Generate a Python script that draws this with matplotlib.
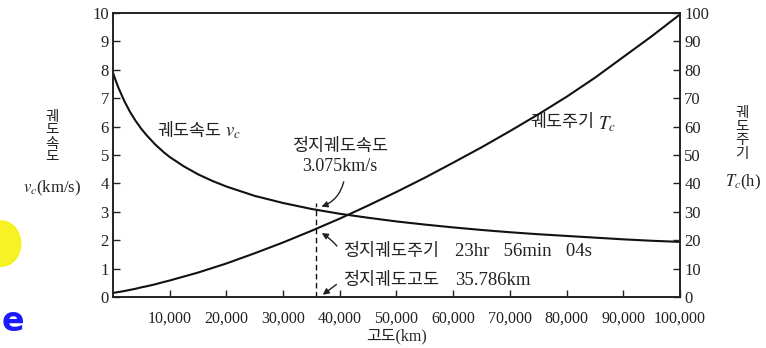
import matplotlib
matplotlib.use("Agg")
import matplotlib.pyplot as plt
from matplotlib.patches import Ellipse

plt.rcParams['font.family'] = ['Liberation Serif', 'Noto Sans CJK KR', 'DejaVu Sans']
plt.rcParams['mathtext.fontset'] = 'stix'

# ---- data ----
altitude_km = [0, 500, 1000, 2000, 3000, 4000, 5000, 6000, 7500, 9000, 10000, 12500,
               15000, 17500, 20000, 25000, 30000, 35000, 40000, 45000, 50000, 55000,
               60000, 65000, 70000, 75000, 80000, 85000, 90000, 95000, 100000]
velocity_kms = [7.90, 7.61, 7.35, 6.90, 6.52, 6.20, 5.92, 5.68, 5.36, 5.09, 4.93, 4.60,
                4.32, 4.09, 3.89, 3.56, 3.31, 3.10, 2.93, 2.79, 2.66, 2.55,
                2.45, 2.36, 2.28, 2.21, 2.15, 2.09, 2.03, 1.98, 1.94]
period_h = [1.4, 1.58, 1.75, 2.1, 2.5, 2.9, 3.4, 3.8, 4.5, 5.3, 5.8, 7.2,
            8.6, 10.2, 11.8, 15.4, 19.2, 23.3, 27.6, 32.2, 37.0, 42.0,
            47.3, 52.7, 58.4, 64.3, 70.5, 77.2, 84.5, 91.8, 99.5]
geo_altitude = 35786
geo_velocity = 3.3
x_ticks = [10000, 20000, 30000, 40000, 50000, 60000, 70000, 80000, 90000, 100000]
x_ticklabels = ['10,000', '20,000', '30,000', '40,000', '50,000', '60,000',
                '70,000', '80,000', '90,000', '100,000']
left_ticks = list(range(0, 11))
right_ticks = list(range(0, 101, 10))

INK = '#222222'

fig = plt.figure(figsize=(7.66, 3.48), dpi=100)
ax = fig.add_axes([0.1475, 0.1466, 0.7402, 0.816])
ax2 = ax.twinx()

ax.plot(altitude_km, velocity_kms, color='#111111', lw=1.5)
ax2.plot(altitude_km, period_h, color='#111111', lw=1.5)
ax.plot([geo_altitude, geo_altitude], [0, geo_velocity], color='#111111', lw=1.0,
        linestyle=(0, (4, 2.5)))

ax.set_xlim(0, 100000)
ax.set_ylim(0, 10)
ax2.set_ylim(0, 100)

ax.set_xticks(x_ticks)
ax.set_xticklabels(x_ticklabels)
ax.set_yticks(left_ticks)
ax2.set_yticks(right_ticks)

for a in (ax, ax2):
    for s in a.spines.values():
        s.set_linewidth(1.2)
        s.set_color(INK)
ax.tick_params(axis='both', direction='in', length=5, width=1, labelsize=12,
               colors=INK, pad=3)
ax.tick_params(axis='x', pad=10, labelsize=11.5)
ax2.tick_params(axis='y', direction='in', length=5, width=1, labelsize=12,
                colors=INK, pad=3)

ax.set_xlabel('고도(km)', fontsize=11.5, labelpad=1, color=INK)

# curve labels
ax.text(7760, 5.81, '궤도속도', fontsize=12.5, va='center', ha='left', color=INK)
ax.text(19700, 5.78, '$v_c$', fontsize=13.5, va='center', ha='left', color=INK)
ax.text(73600, 6.13, '궤도주기', fontsize=12.5, va='center', ha='left', color=INK)
ax.text(85500, 6.10, '$T_c$', fontsize=13.5, va='center', ha='left', color=INK)

# annotations
ax.text(40000, 5.28, '정지궤도속도', fontsize=12.5, ha='center', va='center', color=INK)
ax.text(40000, 4.58, '3.075km/s', fontsize=13, ha='center', va='center', color=INK)
ax.annotate('', xy=(36300, 3.15), xytext=(40800, 4.15),
            arrowprops=dict(arrowstyle='-|>', color=INK, lw=1,
                            connectionstyle='arc3,rad=-0.3', mutation_scale=9))
ax.text(40600, 1.6, '정지궤도주기', fontsize=12.5, ha='left', va='center', color=INK)
ax.text(60300, 1.6, '23hr   56min   04s', fontsize=13.5, ha='left', va='center', color=INK)
ax.annotate('', xy=(36400, 2.3), xytext=(39800, 1.72),
            arrowprops=dict(arrowstyle='-|>', color=INK, lw=1,
                            connectionstyle='arc3,rad=0.1', mutation_scale=9))
ax.text(40600, 0.58, '정지궤도고도', fontsize=12.5, ha='left', va='center', color=INK)
ax.text(60300, 0.58, '35.786km', fontsize=13.5, ha='left', va='center', color=INK)
ax.annotate('', xy=(36600, 0.02), xytext=(39800, 0.5),
            arrowprops=dict(arrowstyle='-|>', color=INK, lw=1,
                            connectionstyle='arc3,rad=0.0', mutation_scale=9))

# axis titles (stacked)
fig.text(0.068, 0.605, '궤\n도\n속\n도', fontsize=10.5, ha='center', va='center',
         linespacing=1.05, color=INK)
fig.text(0.068, 0.46, '$v_c$(km/s)', fontsize=12, ha='center', va='center', color=INK)
fig.text(0.969, 0.615, '궤\n도\n주\n기', fontsize=10.5, ha='center', va='center',
         linespacing=1.05, color=INK)
fig.text(0.970, 0.475, '$T_c$(h)', fontsize=12, ha='center', va='center', color=INK)

# slide remnants at the left edge
fig.patches.append(Ellipse((0.002, 0.30), 0.05, 0.13, transform=fig.transFigure,
                           color='#f5f000', alpha=0.85, zorder=0))
fig.text(0.002, 0.075, 'e', fontsize=24, fontweight='bold', color='#1a1aff',
         family='DejaVu Sans', ha='left', va='center')

fig.savefig('out.png', dpi=100)
